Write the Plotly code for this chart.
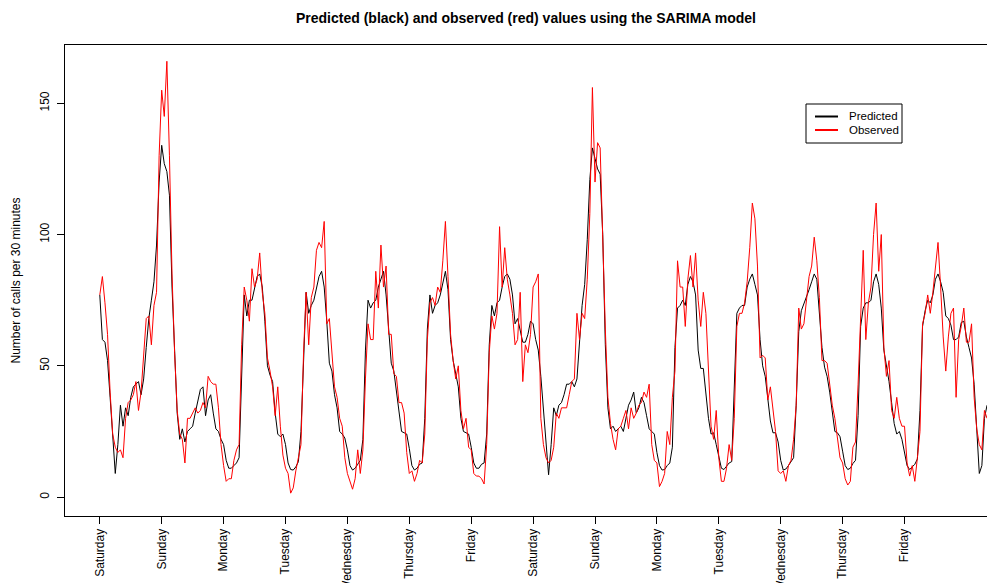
import numpy as np
import plotly.graph_objects as go

# Day names marking each midnight along the x axis
day_labels = ["Saturday", "Sunday", "Monday", "Tuesday", "Wednesday", "Thursday", "Friday",
              "Saturday", "Sunday", "Monday", "Tuesday", "Wednesday", "Thursday", "Friday"]
y_ticks = [0, 50, 100, 150]

# SARIMA fitted values, one per hour starting Saturday 00:00
predicted = [
    77, 60, 59, 52, 38, 25, 9, 20, 35, 27,
    34, 31, 38, 42, 43, 44, 39, 45, 57, 68,
    75, 82, 96, 120, 134, 127, 124, 115, 80, 55,
    32, 22, 26, 21, 25, 26, 27, 32, 36, 41,
    42, 31, 37, 39, 32, 26, 25, 22, 20, 14,
    11, 11, 12, 13, 15, 45, 77, 69, 75, 75,
    79, 84, 85, 80, 67, 50, 46.5, 44, 32, 24,
    23, 24, 20, 13, 10.5, 10.3, 11.5, 13.5, 25, 52,
    78, 70, 73, 75, 80, 84, 86, 80, 67, 51,
    48, 39, 34, 25, 24, 22.5, 18, 12, 10.3, 11,
    12.5, 14, 22, 56, 75, 72, 74, 75, 80, 83,
    86, 77, 65, 51, 48, 41, 33, 25, 24.5, 24,
    18.5, 12, 10.3, 11, 12.5, 13, 30, 64, 77, 70,
    73, 74, 77, 82, 86, 79, 60, 52, 46.5, 42,
    30, 25, 24.5, 24, 19, 13, 11, 11, 12.5, 13,
    24, 58, 73, 69, 74, 75, 80, 84, 85, 83,
    77, 66, 68, 64, 59, 59, 62, 67, 66, 60,
    56, 46, 34, 23, 8.5, 20, 34, 31, 35, 36,
    39, 43, 43, 44, 42, 45, 60, 73, 81, 98,
    121, 133, 129, 125, 123, 100, 58, 34, 26, 27,
    25, 26, 27, 25, 30, 35, 37, 40, 32, 34,
    38, 36, 31, 26, 25, 24, 17, 12, 10.3, 10.5,
    12, 13, 19, 57, 72, 73, 75, 73, 81, 84,
    82, 77, 56, 49, 49, 38, 30, 24, 24.5, 20,
    15, 11, 10.5, 12, 13, 13.5, 40, 70, 72, 73,
    73, 80, 83, 85, 81, 77, 60, 50, 46, 37,
    29, 24.5, 24.5, 21, 14, 10.3, 10.7, 12, 13.3, 15,
    35, 63, 71, 73.5, 76, 79, 82, 85, 83, 70,
    57, 49.5, 46, 40, 32, 25, 24.5, 23, 17.5, 12,
    10.5, 11, 12.8, 14, 31, 65, 72, 74, 74, 75,
    82, 85, 81, 72, 56, 50, 44, 36, 28, 24,
    25, 22, 17.5, 12, 10.5, 11.5, 12.5, 14.5, 33, 65,
    71, 75, 74, 77, 83, 85, 82, 78, 69, 68,
    65.5, 60, 60, 61, 66.5, 67, 61, 57, 53, 43,
    26, 9, 12, 30, 35,
]

# Observed call counts for the same hours
observed = [
    77, 84, 74, 62, 40, 24, 19, 17, 18, 15,
    30, 36, 37, 39, 44, 33, 40, 56, 68, 69,
    58, 73, 78, 130, 155, 145, 166, 130, 85, 55,
    33, 24, 22, 13, 30, 30, 32, 34, 32, 33,
    36, 34, 46, 44, 43, 43, 34, 20, 12, 6,
    7, 7, 14, 18, 20, 58, 80, 75, 67, 87,
    80, 83, 93, 78, 70, 53, 48, 42, 31, 42,
    27, 16, 11, 9, 1.5, 3.5, 10, 15, 20, 55,
    78, 58, 76, 80, 94, 97, 95, 105, 66, 68,
    55, 42, 38, 30, 27, 15, 9, 6, 3, 7,
    18, 9, 18, 45, 66, 60, 60, 86, 72, 96,
    80, 88, 62, 62, 47, 46, 36, 36, 32, 17,
    9, 10, 6, 9, 14, 13, 24, 60, 74, 76,
    73, 80, 78, 90, 105, 84, 62, 52, 45, 50,
    33, 26, 30, 19, 18, 9, 8, 8, 7, 5,
    20, 55, 69, 64, 70, 103, 80, 95, 83, 77,
    70, 58, 60, 78, 44, 58, 55, 62, 80, 82,
    85, 30, 20, 15, 13, 14, 19, 32, 30, 34,
    34, 34, 39, 44, 45, 70, 60, 70, 68, 83,
    108, 156, 120, 135, 133, 95, 64, 38, 28, 22,
    18, 26, 27, 30, 33, 26, 34, 30, 32, 35,
    36, 40, 38, 43, 20, 14, 13, 4, 6, 9,
    25, 20, 38, 48, 90, 80, 80, 65, 83, 92,
    80, 93, 75, 65, 78, 70, 45, 27, 22, 33,
    15, 6, 6, 11, 20, 14, 30, 65, 70, 70,
    74, 82, 95, 112, 106, 88, 53, 54, 53, 37,
    42, 33, 25, 10, 9, 10, 6, 12, 14, 22,
    35, 72, 64, 66, 74, 84, 88, 99, 90, 76,
    52, 52, 51, 42, 35, 30, 22, 15, 13, 7,
    4.6, 6, 19, 21, 43, 72, 94, 60, 74, 80,
    100, 112, 86, 100, 57, 46, 52, 33, 30, 38,
    30, 27, 27, 13, 8, 12, 6, 15, 25, 66,
    70, 77, 70, 78, 87, 97, 80, 61, 48, 61,
    70, 72, 38, 60, 65, 72, 59, 59, 66, 38,
    26, 20, 18, 33, 30,
]

# Time axis in days since the first Saturday midnight
x_days = np.arange(len(predicted)) / 24.0
tick_days = list(range(len(day_labels)))

FONT = "Liberation Sans, Arial, Helvetica, sans-serif"

fig = go.Figure()
fig.add_trace(go.Scatter(x=x_days, y=predicted, mode="lines", name="Predicted",
                         line=dict(color="black", width=1), showlegend=False))
fig.add_trace(go.Scatter(x=x_days, y=observed, mode="lines", name="Observed",
                         line=dict(color="red", width=1), showlegend=False))

# Plot-area geometry (pixels) used to place the legend box
L, R, T, B = 65, 987, 45, 516
def px_x(p):
    return (p - L) / (R - L)
def px_y(p):
    return (B - p) / (B - T)

shapes = [
    # legend frame
    dict(type="rect", xref="paper", yref="paper",
         x0=px_x(806), x1=px_x(902), y0=px_y(143), y1=px_y(104),
         line=dict(color="black", width=1), fillcolor="white", layer="above"),
    dict(type="line", xref="paper", yref="paper",
         x0=px_x(815), x1=px_x(838), y0=px_y(116.5), y1=px_y(116.5),
         line=dict(color="black", width=2), layer="above"),
    dict(type="line", xref="paper", yref="paper",
         x0=px_x(815), x1=px_x(838), y0=px_y(130), y1=px_y(130),
         line=dict(color="red", width=2), layer="above"),
]
annotations = [
    dict(text="Predicted", xref="paper", yref="paper", x=px_x(847), y=px_y(116.5),
         xanchor="left", yanchor="middle", showarrow=False,
         font=dict(family=FONT, size=11.5, color="black")),
    dict(text="Observed", xref="paper", yref="paper", x=px_x(847), y=px_y(130),
         xanchor="left", yanchor="middle", showarrow=False,
         font=dict(family=FONT, size=11.5, color="black")),
]

fig.update_layout(
    width=987, height=583, autosize=False,
    margin=dict(l=L, r=987 - R, t=T, b=583 - B, pad=0),
    paper_bgcolor="white", plot_bgcolor="white",
    font=dict(family=FONT, size=12, color="black"),
    title=dict(text="<b>Predicted (black) and observed (red) values using the SARIMA model</b>",
               xref="paper", x=0.5, xanchor="center",
               yref="container", y=1 - 18 / 583, yanchor="middle",
               font=dict(family=FONT, size=14, color="black")),
    shapes=shapes,
    annotations=annotations,
    showlegend=False,
)

fig.update_xaxes(
    range=[-34.8 / 61.9, (R - 99.8) / 61.9],
    tickmode="array", tickvals=tick_days, ticktext=day_labels, tickangle=-90,
    ticks="outside", ticklen=7, tickcolor="black", tickwidth=1,
    showline=True, linecolor="black", linewidth=1, mirror=True,
    showgrid=False, zeroline=False, automargin=False,
    tickfont=dict(family=FONT, size=12, color="black"),
)
fig.update_yaxes(
    range=[-7.2, 172.2],
    tickmode="array", tickvals=y_ticks, ticktext=[str(v) for v in y_ticks], tickangle=-90,
    ticks="outside", ticklen=7, tickcolor="black", tickwidth=1,
    ticklabelstandoff=3,
    showline=True, linecolor="black", linewidth=1, mirror=False,
    showgrid=False, zeroline=False, automargin=False,
    tickfont=dict(family=FONT, size=12, color="black"),
    title=dict(text="Number of calls per 30 minutes", standoff=15,
               font=dict(family=FONT, size=12, color="black")),
)

fig.write_html("out.html")
